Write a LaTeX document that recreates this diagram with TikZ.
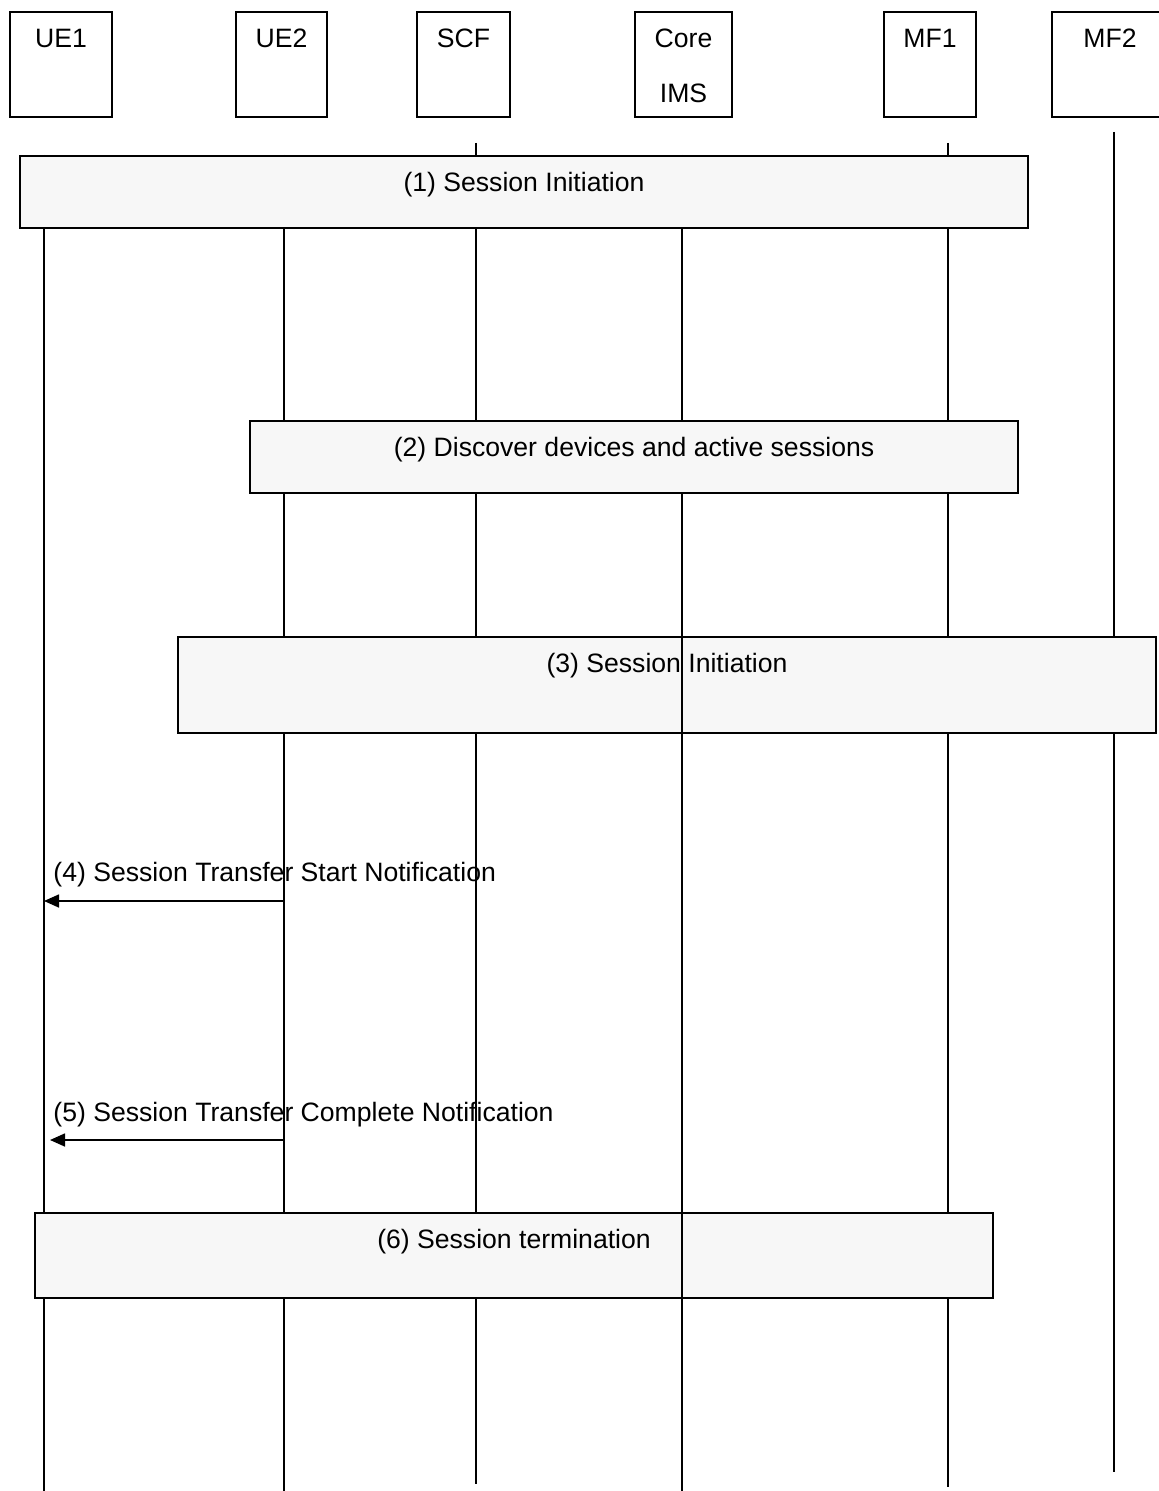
\documentclass[tikz,border=0pt]{standalone}
\usepackage{fontspec}
\setmainfont{Liberation Sans}
\usetikzlibrary{positioning, arrows.meta, calc}

% two-line entity caption, first line hung from the top edge
\newcommand{\entlbl}[2]{\rule{0pt}{18pt}#1\\#2\rule[-7pt]{0pt}{7pt}}

\begin{document}
\begin{tikzpicture}[
            x=0.5pt, y=-0.5pt,
            entity/.style={rectangle, draw, line width=0.8pt, inner ysep=0pt,
                           align=center, font=\fontsize{13.3}{27.5}\selectfont},
            phase/.style={rectangle, draw, line width=0.8pt, fill=gray!6, inner ysep=0pt,
                          text height=17.75pt, font=\fontsize{13.3}{16}\selectfont},
            life/.style={line width=0.9pt},
            msg/.style={font=\fontsize{13.3}{16}\selectfont, inner sep=0pt},
            arrow/.style={-{Triangle[length=7.5pt, width=6.5pt]}, line width=0.8pt},
        ]
            % Page frame
            \useasboundingbox (0,0) rectangle (1158,1491);

            % Entities along the top
            \node[entity, minimum width=51pt]   (ue1)  at (61,64.5)   {\entlbl{UE1}{}};
            \node[entity, minimum width=45.5pt] (ue2)  at (281.5,64.5) {\entlbl{UE2}{}};
            \node[entity, minimum width=46.5pt] (scf)  at (463.5,64.5) {\entlbl{SCF}{}};
            \node[entity, minimum width=48.5pt] (core) at (683.5,64.5) {\entlbl{Core}{IMS}};
            \node[entity, minimum width=46pt]   (mf1)  at (930,64.5)   {\entlbl{MF1}{}};
            \node[entity, minimum width=58pt]   (mf2)  at (1110,64.5)  {\entlbl{MF2}{}};

            % Lifeline ends
            \coordinate (ue1 top)  at (44,155);   \coordinate (ue1 end)  at (44,1491);
            \coordinate (ue2 top)  at (284,155);  \coordinate (ue2 end)  at (284,1491);
            \coordinate (scf top)  at (476,143);  \coordinate (scf end)  at (476,1484);
            \coordinate (core top) at (682,155);  \coordinate (core end) at (682,1491);
            \coordinate (mf1 top)  at (948,143);  \coordinate (mf1 end)  at (948,1487);
            \coordinate (mf2 top)  at (1114,132); \coordinate (mf2 end)  at (1114,1472);

            \draw[life] (ue1 top)  -- (ue1 end);
            \draw[life] (ue2 top)  -- (ue2 end);
            \draw[life] (scf top)  -- (scf end);
            \draw[life] (core top) -- (core end);
            \draw[life] (mf1 top)  -- (mf1 end);
            \draw[life] (mf2 top)  -- (mf2 end);

            % Phases spanning several lifelines
            \node[phase, minimum width=504pt, text depth=18.25pt] (init1) at (524,155)
                [anchor=north] {(1) Session Initiation};
            \node[phase, minimum width=384pt, text depth=18.25pt] (disc) at (634,420)
                [anchor=north] {(2) Discover devices and active sessions};
            \node[phase, minimum width=489pt, text depth=30.25pt] (init3) at (667,636)
                [anchor=north] {(3) Session Initiation};
            \node[phase, minimum width=479pt, text depth=24.75pt] (term) at (514,1212)
                [anchor=north] {(6) Session termination};

            % Core IMS line stays visible across (3) and (6)
            \draw[life] (init3.north -| core top) -- (init3.south -| core top);
            \draw[life] (term.north -| core top) -- (term.south -| core top);

            % Notifications from UE2 to UE1
            \coordinate (n4 from) at (284,901);  \coordinate (n4 to) at (44,901);
            \coordinate (n5 from) at (284,1140); \coordinate (n5 to) at (50,1140);
            \node[msg, anchor=base west] (n4 lbl) at (53,881.5) {(4) Session Transfer Start Notification};
            \node[msg, anchor=base west] (n5 lbl) at (53,1121.5) {(5) Session Transfer Complete Notification};
            \draw[arrow] (n4 from) -- (n4 to);
            \draw[arrow] (n5 from) -- (n5 to);
\end{tikzpicture}
\end{document}
